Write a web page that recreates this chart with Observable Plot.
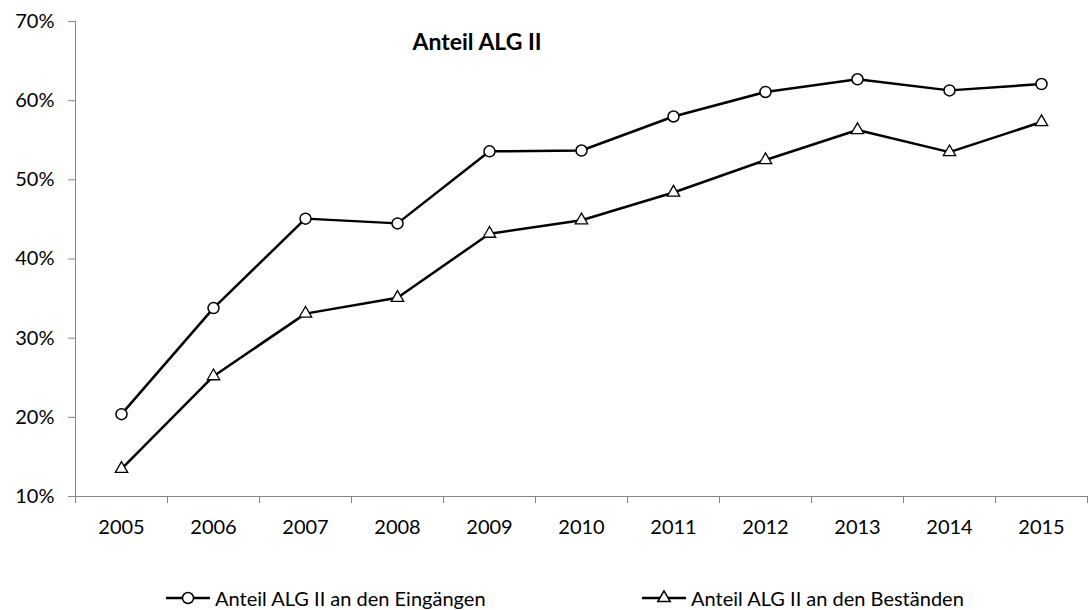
<!DOCTYPE html>
<html>
<head>
<meta charset="utf-8">
<script src="https://cdn.jsdelivr.net/npm/d3@7"></script>
<script src="https://cdn.jsdelivr.net/npm/@observablehq/plot@0.6"></script>
<style>
  body { margin: 0; background: #fff; font-family: Lato, "Open Sans", sans-serif; }
  #legend { position: relative; height: 24px; font-size: 20px; line-height: 22px; color: #000; }
  #legend .item { position: absolute; top: 0; display: flex; align-items: center; white-space: nowrap; }
  #legend svg { margin-right: 5px; }
</style>
</head>
<body>
<div id="chart"></div>
<div id="legend"></div>
<script>
const years = [2005, 2006, 2007, 2008, 2009, 2010, 2011, 2012, 2013, 2014, 2015];
const eingaenge = [20.4, 33.8, 45.1, 44.5, 53.6, 53.7, 58.0, 61.1, 62.7, 61.3, 62.1];
const bestaende = [13.5, 25.2, 33.1, 35.1, 43.2, 44.9, 48.4, 52.5, 56.3, 53.5, 57.3];
const seriesNames = ["Anteil ALG II an den Eingängen", "Anteil ALG II an den Beständen"];
const yTicks = [10, 20, 30, 40, 50, 60, 70];
const title = "Anteil ALG II";

const dataA = years.map((y, i) => ({year: y, value: eingaenge[i]}));
const dataB = years.map((y, i) => ({year: y, value: bestaende[i]}));
const boundaries = years.map(y => y - 0.5).concat([years[years.length - 1] + 0.5]);

const axisColor = "#868686";

const plot = Plot.plot({
  width: 1090,
  height: 587,
  marginLeft: 75,
  marginRight: 3,
  marginTop: 21,
  marginBottom: 91,
  style: {fontFamily: "Lato, 'Open Sans', sans-serif", fontSize: "20px", color: "#000", background: "#fff"},
  x: {type: "linear", domain: [boundaries[0], boundaries[boundaries.length - 1]], axis: null, label: null},
  y: {domain: [10, 70], axis: null, label: null},
  marks: [
    Plot.ruleY([10], {stroke: axisColor, strokeWidth: 1}),
    Plot.ruleX([boundaries[0]], {stroke: axisColor, strokeWidth: 1}),
    Plot.axisY(yTicks, {anchor: "left", label: null, tickSize: 7, tickPadding: 14, stroke: axisColor, tickFormat: d => d + "%", fill: "#000", fontSize: 20}),
    Plot.axisX(boundaries, {anchor: "bottom", label: null, tickSize: 7, stroke: axisColor, tickFormat: () => ""}),
    Plot.axisX(years, {anchor: "bottom", label: null, tickSize: 0, tickPadding: 23, tickFormat: d => String(d), fill: "#000", fontSize: 20}),
    Plot.line(dataA, {x: "year", y: "value", stroke: "#000", strokeWidth: 2.5}),
    Plot.line(dataB, {x: "year", y: "value", stroke: "#000", strokeWidth: 2.5}),
    Plot.dot(dataA, {x: "year", y: "value", r: 5.5, symbol: "circle", fill: "#fff", stroke: "#000", strokeWidth: 1.5}),
    Plot.dot(dataB, {x: "year", y: "value", r: 4.6, symbol: "triangle", fill: "#fff", stroke: "#000", strokeWidth: 1.3}),
    Plot.text([title], {frameAnchor: "top-left", dx: 337, dy: 12, textAnchor: "start", lineAnchor: "top", fontWeight: "bold", fontSize: 23, fill: "#000"})
  ]
});
document.getElementById("chart").appendChild(plot);

// Legend
const legend = document.getElementById("legend");
const lefts = [166, 642];
const symbols = ["circle", "triangle"];
seriesNames.forEach((name, i) => {
  const item = document.createElement("div");
  item.className = "item";
  item.style.left = lefts[i] + "px";
  const svgNS = "http://www.w3.org/2000/svg";
  const s = document.createElementNS(svgNS, "svg");
  s.setAttribute("width", 44);
  s.setAttribute("height", 16);
  const ln = document.createElementNS(svgNS, "line");
  ln.setAttribute("x1", 0); ln.setAttribute("x2", 44);
  ln.setAttribute("y1", 8); ln.setAttribute("y2", 8);
  ln.setAttribute("stroke", "#000"); ln.setAttribute("stroke-width", 2.5);
  s.appendChild(ln);
  const p = document.createElementNS(svgNS, "path");
  const sym = symbols[i] === "circle" ? d3.symbolCircle : d3.symbolTriangle;
  const size = symbols[i] === "circle" ? Math.PI * 5.5 * 5.5 : Math.PI * 4.6 * 4.6;
  p.setAttribute("d", d3.symbol(sym, size)());
  p.setAttribute("transform", "translate(22,8)");
  p.setAttribute("fill", "#fff"); p.setAttribute("stroke", "#000"); p.setAttribute("stroke-width", 1.5);
  s.appendChild(p);
  item.appendChild(s);
  const t = document.createElement("span");
  t.textContent = name;
  item.appendChild(t);
  legend.appendChild(item);
});
</script>
</body>
</html>
